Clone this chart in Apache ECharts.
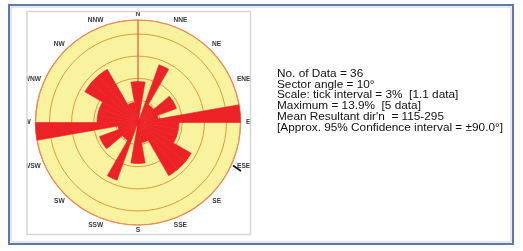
<!DOCTYPE html>
<html>
<head>
<meta charset="utf-8">
<script src="https://cdn.jsdelivr.net/npm/echarts@6/dist/echarts.min.js"></script>
<style>
  html, body { margin: 0; padding: 0; background: #fff; }
  #chart { width: 523px; height: 251px; }
</style>
</head>
<body>
<div id="chart"></div>
<script>
// 10 degree sectors, clockwise from north
const sectors = ["0", "10", "20", "30", "40", "50", "60", "70", "80",
  "90", "100", "110", "120", "130", "140", "150", "160", "170",
  "180", "190", "200", "210", "220", "230", "240", "250", "260",
  "270", "280", "290", "300", "310", "320", "330", "340", "350"];

// number of data per sector (axial data, so the rose is mirrored)
const sectorCounts = [2, 0, 3, 1, 1, 2, 2, 1, 5, 2, 2, 2, 3, 3, 3, 1, 1, 2,
  2, 0, 3, 1, 1, 2, 2, 1, 5, 2, 2, 2, 3, 3, 3, 1, 1, 2];
const totalData = 36;
const tickInterval = 3; // %
const maxPercent = 13.9;

const directions = ["N", "NNE", "NE", "ENE", "E", "ESE", "SE", "SSE",
  "S", "SSW", "SW", "WSW", "W", "WNW", "NW", "NNW"];

const statLines = [
  "No. of Data = 36",
  "Sector angle = 10°",
  "Scale: tick interval = 3%  [1.1 data]",
  "Maximum = 13.9%  [5 data]",
  "Mean Resultant dir'n  = 115-295",
  "[Approx. 95% Confidence interval = ±90.0°]"
];

const chart = echarts.init(document.getElementById("chart"));

const cx = 138, cy = 122.5, R = 102.5;
const percents = sectorCounts.map((c) => +(c / totalData * 100).toFixed(2));

// only the N-S split line is drawn
const nsColors = sectors.map((_, i) => (i === 0 || i === 18 ? "#e8322b" : "rgba(0,0,0,0)"));

const graphics = [];
// yellow disc behind the rings
graphics.push({
  type: "circle", z: -5, silent: true,
  shape: { cx: cx, cy: cy, r: R },
  style: { fill: "#f9f3a0" }
});
directions.forEach((d, i) => {
  const a = (i * 22.5) * Math.PI / 180;
  const w = d.length * 5;
  const lr = 108 + 0.46 * w * Math.abs(Math.sin(a));
  graphics.push({
    type: "text", z: 10,
    x: cx + lr * Math.sin(a), y: cy - lr * Math.cos(a),
    style: {
      text: d, fill: "#3a3a3a", font: "bold 6.6px 'Liberation Sans', Arial, sans-serif",
      align: "center", verticalAlign: "middle"
    }
  });
});
// cover left of the inner plot frame (labels are clipped there)
graphics.push({
  type: "rect", z: 20,
  shape: { x: 11, y: 8, width: 15.5, height: 234 },
  style: { fill: "#fff" }
});
// inner plot frame
graphics.push({
  type: "rect", z: 21,
  shape: { x: 27, y: 11.5, width: 223.5, height: 223 },
  style: { fill: "none", stroke: "#d6d6d6", lineWidth: 1.5 }
});
// outer border
graphics.push({
  type: "rect", z: 22,
  shape: { x: 9, y: 5, width: 504, height: 239 },
  style: { fill: "none", stroke: "#5b7aa8", lineWidth: 2 }
});
graphics.push({
  type: "rect", z: 22,
  shape: { x: 11, y: 7, width: 500, height: 235 },
  style: { fill: "none", stroke: "#c9d3e3", lineWidth: 1 }
});
// small pointer near ESE
graphics.push({
  type: "line", z: 12,
  shape: { x1: 233, y1: 165.5, x2: 241, y2: 171 },
  style: { stroke: "#111", lineWidth: 1.6 }
});
statLines.forEach((t, i) => {
  graphics.push({
    type: "text", z: 10,
    x: 277, y: 73.5 + i * 10.8,
    style: {
      text: t, fill: "#111", font: "11.8px 'Liberation Sans', Arial, sans-serif",
      verticalAlign: "middle"
    }
  });
});

chart.setOption({
  backgroundColor: "#fff",
  animation: false,
  polar: { center: [cx, cy], radius: R },
  angleAxis: {
    type: "category",
    data: sectors,
    startAngle: 90,
    clockwise: true,
    boundaryGap: true,
    axisLine: { show: true, lineStyle: { color: "#f08a5c", width: 1.2 } },
    axisTick: { show: false },
    axisLabel: { show: false },
    splitLine: { show: true, lineStyle: { color: nsColors, width: 1 } },
    z: 1
  },
  radiusAxis: {
    type: "value",
    min: 0,
    max: maxPercent,
    interval: tickInterval,
    axisLine: { show: false },
    axisTick: { show: false },
    axisLabel: { show: false },
    splitLine: { show: true, lineStyle: { color: "#dc9a45", width: 1 } },
    splitArea: { show: false }
  },
  series: [{
    type: "bar",
    coordinateSystem: "polar",
    data: percents,
    barCategoryGap: "0%",
    itemStyle: { color: "#ec2227", borderColor: "#ec2227", borderWidth: 0.6 },
    silent: true
  }],
  graphic: graphics
});
</script>
</body>
</html>
